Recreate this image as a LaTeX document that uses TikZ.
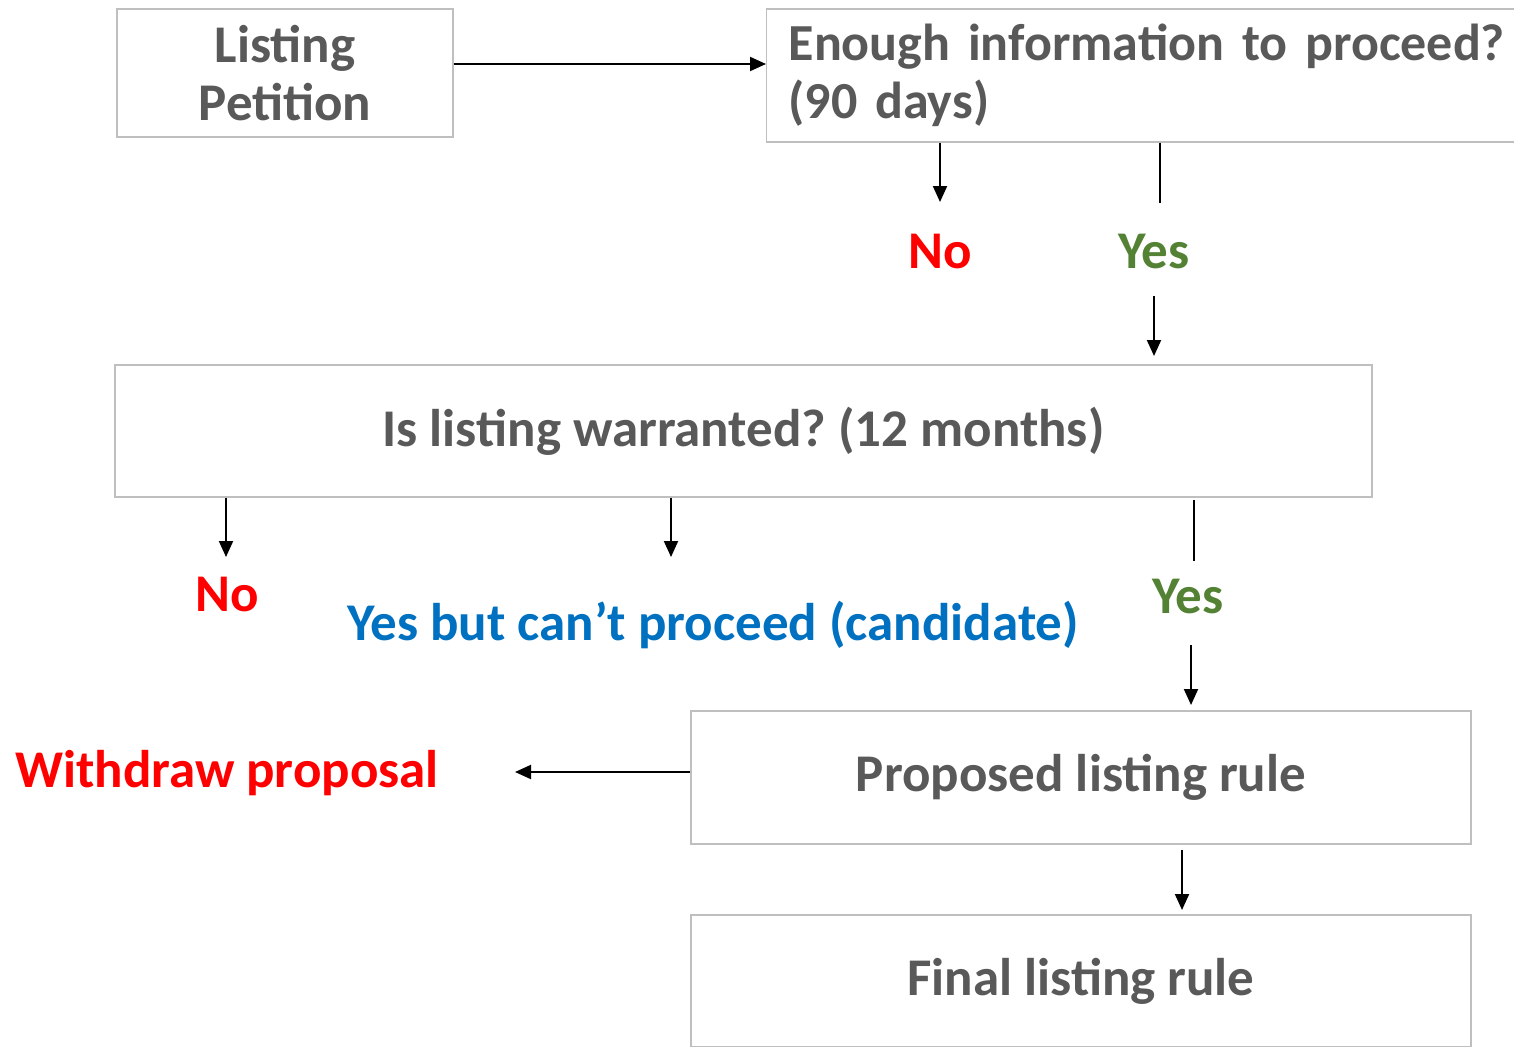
\documentclass[tikz,border=0pt]{standalone}
\usepackage{fontspec}
\setmainfont{Carlito}
\usepackage{tikz}
\usetikzlibrary{arrows.meta,positioning,calc}
\definecolor{boxgray}{HTML}{BFBFBF}
\definecolor{txtgray}{HTML}{595959}
\definecolor{nored}{HTML}{FF0000}
\definecolor{yesgreen}{HTML}{548235}
\definecolor{candblue}{HTML}{0070C0}
\newcommand{\bigfont}{\frenchspacing\bfseries\fontsize{53}{58}\selectfont}
\tikzset{
  box/.style={draw=boxgray, line width=1.3pt, text=txtgray, font=\bigfont, align=center},
  lbl/.style={font=\bigfont, inner sep=0pt},
  flow/.style={-{Triangle[length=16pt,width=14pt]}, line width=2pt},
  stem/.style={line width=2pt}
}

\begin{document}
\begin{tikzpicture}[x=1pt,y=-1pt]
    \clip (0,0) rectangle (1514,1046);
    % boxes
    \node[box, minimum width=336pt, minimum height=128pt] (petition) at (285,73) {Listing\\Petition};
    \node[box, anchor=west, align=left, text width=740pt, inner xsep=22pt, minimum height=133pt] (info) at (766,75.5) {\fontsize{52}{58}\selectfont Enough information to proceed?\\(90 days)};
    \node[box, minimum width=1257pt, minimum height=132pt] (warranted) at (743.5,431) {Is listing warranted? (12 months)};
    \node[box, minimum width=780pt, minimum height=133pt] (proposed) at (1081,777.5) {Proposed listing rule};
    \node[box, minimum width=780pt, minimum height=132pt] (final) at (1081,981) {Final listing rule};
    % answers
    \node[lbl, text=nored] (noA) at (940,252) {No};
    \node[lbl, text=yesgreen] (yesA) at (1154,252) {Yes};
    \node[lbl, text=nored] (noB) at (227,595) {No};
    \node[lbl, text=candblue] (cand) at (713,625) {Yes but can’t proceed (candidate)};
    \node[lbl, text=yesgreen] (yesB) at (1188,597) {Yes};
    \node[lbl, text=nored] (withdraw) at (227,773) {Withdraw proposal};
    % free ends
    \coordinate (noAtip) at (940,202);
    \coordinate (yesAstop) at (1160,203);
    \coordinate (yesAfrom) at (1154,296);
    \coordinate (noBtip) at (226,557);
    \coordinate (candtip) at (671,557);
    \coordinate (yesBstop) at (1194,561);
    \coordinate (yesBfrom) at (1191,645);
    \coordinate (withdrawtip) at (515,772);
    \coordinate (finaltip) at (1182,910);
    % connectors
    \draw[flow] ([yshift=9pt]petition.east) -- ([yshift=11.5pt]info.west);
    \draw[flow] (info.south -| noAtip) -- (noAtip);
    \draw[stem] (info.south -| yesAstop) -- (yesAstop);
    \draw[flow] (yesAfrom) -- (yesAfrom |- 0,356);
    \draw[flow] (warranted.south -| noBtip) -- (noBtip);
    \draw[flow] (warranted.south -| candtip) -- (candtip);
    \draw[stem] ([yshift=-2pt]warranted.south -| yesBstop) -- (yesBstop);
    \draw[flow] (yesBfrom) -- (yesBfrom |- 0,705);
    \draw[flow] ([yshift=5.5pt]proposed.west) -- (withdrawtip);
    \draw[flow] ([yshift=-5pt]proposed.south -| finaltip) -- (finaltip);
\end{tikzpicture}
\end{document}
